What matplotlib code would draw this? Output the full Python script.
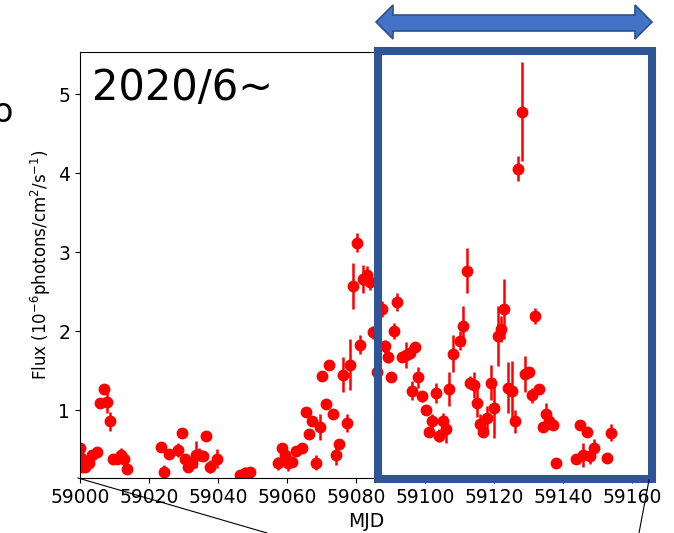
import matplotlib
matplotlib.use('Agg')
import matplotlib.pyplot as plt
from matplotlib.patches import Rectangle, Polygon
from matplotlib.lines import Line2D
import numpy as np

# light curve (MJD, flux in 1e-6 ph/cm2/s, error)
mjd = [59000.0, 59000.3, 59000.6, 59001.4, 59002.6, 59003.5, 59004.9, 59005.8, 59007.0, 59007.8,
       59008.7, 59009.6, 59010.7, 59011.9, 59012.8, 59013.6, 59023.5, 59024.3, 59025.8, 59028.4,
       59029.6, 59030.4, 59031.3, 59032.5, 59033.6, 59034.5, 59035.7, 59036.5, 59037.7, 59039.7,
       59046.4, 59047.8, 59049.3, 59057.4, 59058.6, 59059.5, 59060.3, 59061.4, 59062.6, 59064.4,
       59065.5, 59066.4, 59067.3, 59068.4, 59069.6, 59070.1, 59071.3, 59072.2, 59073.3, 59074.2,
       59075.1, 59076.2, 59077.4, 59078.3, 59079.1, 59080.2, 59081.2, 59082.1, 59083.2, 59084.1,
       59085.0, 59086.1, 59087.5, 59088.4, 59089.3, 59090.1, 59091.0, 59091.9, 59093.3, 59094.5,
       59095.6, 59096.2, 59097.1, 59098.0, 59099.1, 59100.3, 59101.2, 59102.1, 59103.2, 59104.1,
       59105.2, 59106.1, 59107.0, 59108.1, 59110.1, 59111.0, 59112.2, 59113.0, 59114.2, 59115.1,
       59115.9, 59116.8, 59118.0, 59119.1, 59120.0, 59121.2, 59122.0, 59122.9, 59124.1, 59125.2,
       59126.1, 59127.0, 59128.1, 59129.0, 59130.2, 59131.0, 59131.9, 59133.0, 59134.0, 59135.1,
       59136.0, 59137.1, 59138.0, 59143.8, 59144.9, 59145.8, 59147.0, 59147.8, 59149.0, 59152.8,
       59153.9]
flux = [0.52, 0.40, 0.28, 0.29, 0.34, 0.44, 0.48, 1.10, 1.27, 1.11,
        0.86, 0.38, 0.38, 0.43, 0.39, 0.26, 0.54, 0.22, 0.45, 0.50,
        0.71, 0.38, 0.29, 0.34, 0.44, 0.44, 0.42, 0.68, 0.29, 0.39,
        0.18, 0.21, 0.22, 0.33, 0.52, 0.44, 0.33, 0.35, 0.49, 0.53,
        0.98, 0.70, 0.86, 0.34, 0.79, 1.43, 1.08, 1.58, 0.96, 0.44,
        0.58, 1.45, 0.84, 1.58, 2.57, 3.12, 1.83, 2.66, 2.71, 2.62,
        1.99, 1.49, 2.28, 1.81, 1.68, 1.42, 2.00, 2.37, 1.68, 1.70,
        1.73, 1.25, 1.80, 1.42, 1.18, 1.00, 0.73, 0.86, 1.22, 0.68,
        0.87, 0.76, 1.27, 1.72, 1.88, 2.07, 2.77, 1.35, 1.32, 1.10,
        0.83, 0.73, 0.90, 1.35, 1.03, 1.94, 2.03, 2.28, 1.29, 1.24,
        0.86, 4.06, 4.78, 1.46, 1.49, 1.19, 2.19, 1.27, 0.79, 0.95,
        0.86, 0.82, 0.33, 0.39, 0.82, 0.44, 0.73, 0.42, 0.52, 0.40,
        0.72]
err = [0.05, 0.05, 0.05, 0.05, 0.06, 0.05, 0.05, 0.06, 0.06, 0.14,
       0.12, 0.06, 0.06, 0.09, 0.06, 0.05, 0.05, 0.09, 0.05, 0.09,
       0.06, 0.07, 0.06, 0.06, 0.17, 0.08, 0.06, 0.05, 0.08, 0.12,
       0.05, 0.08, 0.05, 0.08, 0.06, 0.06, 0.10, 0.07, 0.05, 0.05,
       0.05, 0.05, 0.06, 0.10, 0.17, 0.05, 0.06, 0.05, 0.05, 0.13,
       0.05, 0.22, 0.11, 0.32, 0.29, 0.12, 0.12, 0.18, 0.12, 0.10,
       0.08, 0.08, 0.10, 0.08, 0.08, 0.06, 0.10, 0.11, 0.06, 0.16,
       0.08, 0.12, 0.06, 0.13, 0.07, 0.06, 0.06, 0.09, 0.13, 0.08,
       0.10, 0.17, 0.21, 0.24, 0.12, 0.25, 0.28, 0.08, 0.16, 0.18,
       0.12, 0.07, 0.15, 0.22, 0.38, 0.38, 0.17, 0.38, 0.32, 0.38,
       0.15, 0.16, 0.63, 0.23, 0.06, 0.10, 0.10, 0.06, 0.06, 0.15,
       0.10, 0.07, 0.04, 0.05, 0.05, 0.15, 0.05, 0.10, 0.12, 0.05,
       0.11]

W, H = 674, 533
fig = plt.figure(figsize=(W / 100, H / 100), dpi=100)
ax = fig.add_axes([80 / W, 1 - 478 / H, 573 / W, 426 / H])

ax.errorbar(mjd, flux, yerr=err, fmt='o', color='red', ms=7.5, elinewidth=1.8, capsize=0)

ax.set_xlim(59000, 59166)
ax.set_ylim(0.145, 5.535)
ax.set_xticks(np.arange(59000, 59161, 20))
ax.set_yticks([1, 2, 3, 4, 5])
ax.tick_params(labelsize=13.5)
ax.set_xlabel('MJD', fontsize=13.5)
ax.set_ylabel('Flux (10$^{-6}$photons/cm$^2$/s$^{-1}$)', fontsize=12)
ax.text(0.021, 0.965, '2020/6~', transform=ax.transAxes, fontsize=30, va='top', ha='left')


def px(x, y):
    return (x / W, 1 - y / H)


# highlight box
x0, y0 = px(378, 479)
x1, y1 = px(651.7, 51)
fig.add_artist(Rectangle((x0, y0), x1 - x0, y1 - y0, transform=fig.transFigure,
                         fill=False, edgecolor='#2F5597', linewidth=5.8, clip_on=False))

# double arrow on top
pts = [(376, 22), (393, 5), (393, 15), (635, 15), (635, 5), (652, 22),
       (635, 39), (635, 31), (393, 31), (393, 39)]
fig.add_artist(Polygon([px(a, b) for a, b in pts], closed=True, transform=fig.transFigure,
                       facecolor='#4472C4', edgecolor='#2F528F', linewidth=1.2, clip_on=False))

# zoom connector lines
fig.add_artist(Line2D([px(78, 478)[0], px(267, 533)[0]], [px(78, 478)[1], px(267, 533)[1]],
                      transform=fig.transFigure, color='black', lw=0.8))
fig.add_artist(Line2D([px(649, 480)[0], px(639, 533)[0]], [px(649, 480)[1], px(639, 533)[1]],
                      transform=fig.transFigure, color='black', lw=0.8))

# clipped character from neighbouring panel
fig.text(-8 / W, 1 - 113 / H, 'o', fontsize=24, ha='left', va='center')

fig.savefig('out.png', dpi=100)
